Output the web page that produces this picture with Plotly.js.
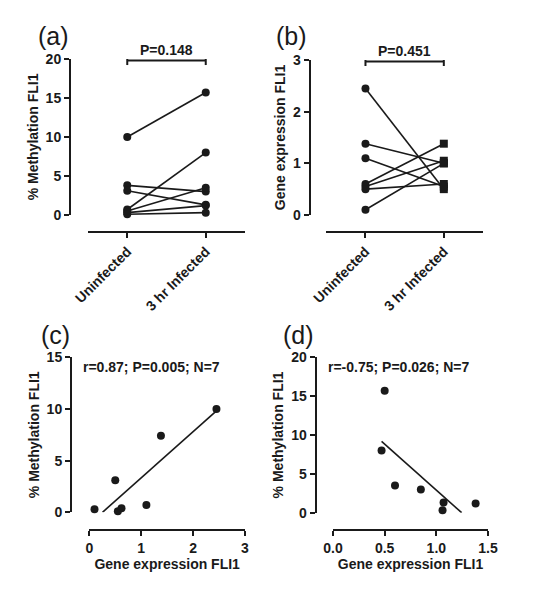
<!DOCTYPE html>
<html>
<head>
<meta charset="utf-8">
<script src="https://cdn.plot.ly/plotly-3.0.1.min.js"></script>
<style>html,body{margin:0;padding:0;background:#fff;}#chart{width:546px;height:600px;}</style>
</head>
<body>
<div id="chart"></div>
<script>
// ---- data ----
const groups = ['Uninfected', '3 hr Infected'];
// (a) % methylation FLI1, paired
const methUninfected = [10.0, 3.8, 3.1, 0.7, 0.5, 0.3, 0.1];
const methInfected   = [15.7, 3.0, 1.3, 8.0, 3.5, 1.2, 0.3];
// (b) gene expression FLI1, paired
const exprUninfected = [2.45, 1.38, 1.1, 0.6, 0.55, 0.5, 0.1];
const exprInfected   = [0.5, 1.0, 0.55, 1.38, 1.05, 0.6, 1.0];
// (c) correlation, uninfected
const cExpr = [0.1, 0.5, 0.55, 0.62, 1.1, 1.38, 2.45];
const cMeth = [0.3, 3.1, 0.1, 0.4, 0.7, 7.4, 10.0];
// (d) correlation, 3 hr infected
const dExpr = [0.47, 0.5, 0.6, 0.85, 1.06, 1.07, 1.38];
const dMeth = [8.0, 15.7, 3.5, 3.0, 0.3, 1.3, 1.2];
// statistics text
const pA = 'P=0.148';
const pB = 'P=0.451';
const statC = 'r=0.87; P=0.005; N=7';
const statD = 'r=-0.75; P=0.026; N=7';
const ticksA = [0, 5, 10, 15, 20];
const ticksB = [0, 1, 2, 3];
const ticksC = [0, 5, 10, 15];
const ticksD = [0, 5, 10, 15, 20];
const xticksC = [0, 1, 2, 3];
const xticksD = [0, 0.5, 1.0, 1.5];
const xtickTextD = ['0.0', '0.5', '1.0', '1.5'];

// ---- helpers ----
const FONT = 'Arial, "Liberation Sans", sans-serif';
const INK = '#1a1a1a';
function fit(xs, ys) {
  const n = xs.length;
  const mx = xs.reduce((a, b) => a + b, 0) / n;
  const my = ys.reduce((a, b) => a + b, 0) / n;
  let sxy = 0, sxx = 0;
  for (let i = 0; i < n; i++) { sxy += (xs[i] - mx) * (ys[i] - my); sxx += (xs[i] - mx) ** 2; }
  const b = sxy / sxx, a = my - b * mx;
  let x0 = Math.min(...xs), x1 = Math.max(...xs);
  const xz = -a / b; // clip at y = 0
  if (b > 0 && a + b * x0 < 0) x0 = xz;
  if (b < 0 && a + b * x1 < 0) x1 = xz;
  return {x: [x0, x1], y: [a + b * x0, a + b * x1]};
}

const traces = [];
for (let i = 0; i < methUninfected.length; i++) {
  traces.push({x: groups, y: [methUninfected[i], methInfected[i]], xaxis: 'x', yaxis: 'y',
    mode: 'lines+markers', cliponaxis: false, showlegend: false,
    line: {color: INK, width: 1.6}, marker: {color: INK, size: 8, symbol: 'circle'}});
}
for (let i = 0; i < exprUninfected.length; i++) {
  traces.push({x: groups, y: [exprUninfected[i], exprInfected[i]], xaxis: 'x2', yaxis: 'y2',
    mode: 'lines+markers', cliponaxis: false, showlegend: false,
    line: {color: INK, width: 1.6}, marker: {color: INK, size: 8, symbol: ['circle', 'square']}});
}
const fc = fit(cExpr, cMeth);
traces.push({x: fc.x, y: fc.y, xaxis: 'x3', yaxis: 'y3', mode: 'lines', cliponaxis: false,
  showlegend: false, line: {color: INK, width: 1.6}});
traces.push({x: cExpr, y: cMeth, xaxis: 'x3', yaxis: 'y3', mode: 'markers', cliponaxis: false,
  showlegend: false, marker: {color: INK, size: 8}});
const fd = fit(dExpr, dMeth);
traces.push({x: fd.x, y: fd.y, xaxis: 'x4', yaxis: 'y4', mode: 'lines', cliponaxis: false,
  showlegend: false, line: {color: INK, width: 1.6}});
traces.push({x: dExpr, y: dMeth, xaxis: 'x4', yaxis: 'y4', mode: 'markers', cliponaxis: false,
  showlegend: false, marker: {color: INK, size: 8}});

const tickFont = {family: FONT, size: 14, color: INK, weight: 'bold'};
const titleFont = {family: FONT, size: 14, color: INK, weight: 'bold'};
function yax(domain, pos, range, tv, title) {
  return {domain: domain, anchor: 'free', position: pos, range: range, tickvals: tv,
    showgrid: false, zeroline: false, showline: true, linecolor: INK, linewidth: 2,
    ticks: 'outside', ticklen: 5, tickwidth: 2, tickcolor: INK, tickfont: tickFont,
    title: {text: title, font: titleFont, standoff: 3}, fixedrange: true};
}
function xax(domain, pos, extra) {
  return Object.assign({domain: domain, anchor: 'free', position: pos,
    showgrid: false, zeroline: false, showline: true, linecolor: INK, linewidth: 2,
    ticks: 'outside', ticklen: 5, tickwidth: 2, tickcolor: INK, tickfont: tickFont,
    fixedrange: true}, extra);
}

function bracket(xr, yr, yv) {
  return [
    {type: 'line', xref: xr, yref: yr, x0: 0, x1: 1, y0: yv, y1: yv, line: {color: INK, width: 2}},
    {type: 'line', xref: xr, yref: yr, ysizemode: 'pixel', yanchor: yv, x0: 0, x1: 0, y0: -4.5, y1: 4.5, line: {color: INK, width: 2}},
    {type: 'line', xref: xr, yref: yr, ysizemode: 'pixel', yanchor: yv, x0: 1, x1: 1, y0: -4.5, y1: 4.5, line: {color: INK, width: 2}}
  ];
}

const panelFont = {family: FONT, size: 25, color: INK};
const statFont = {family: FONT, size: 14, color: INK, weight: 'bold'};

const layout = {
  width: 546, height: 600, autosize: false,
  margin: {l: 0, r: 0, t: 0, b: 0},
  paper_bgcolor: '#fff', plot_bgcolor: '#fff',
  showlegend: false,
  xaxis: xax([0.1612, 0.4487], 0.6133, {type: 'category', range: [-0.5, 1.5], tickangle: -45}),
  yaxis: yax([0.6417, 0.9017], 0.1282, [0, 20], ticksA, '% Methylation FLI1'),
  xaxis2: xax([0.5976, 0.8846], 0.6133, {type: 'category', range: [-0.5, 1.5], tickangle: -45}),
  yaxis2: yax([0.6417, 0.9], 0.5672, [0, 3], ticksB, 'Gene expression FLI1'),
  xaxis3: xax([0.1636, 0.4487], 0.1167, {range: [0, 3], tickvals: xticksC,
    title: {text: 'Gene expression FLI1', font: titleFont, standoff: 3}}),
  yaxis3: yax([0.1462, 0.4045], 0.1300, [0, 15], ticksC, '% Methylation FLI1'),
  xaxis4: xax([0.6099, 0.8938], 0.1167, {range: [0, 1.5], tickvals: xticksD, ticktext: xtickTextD,
    title: {text: 'Gene expression FLI1', font: titleFont, standoff: 3}}),
  yaxis4: yax([0.1455, 0.4045], 0.5782, [0, 20], ticksD, '% Methylation FLI1'),
  shapes: [].concat(bracket('x', 'y', 19.8), bracket('x2', 'y2', 2.97)),
  annotations: [
    {text: '(a)', xref: 'paper', yref: 'paper', x: 0.0989, y: 1 - 36 / 600, xanchor: 'center', yanchor: 'middle', showarrow: false, font: panelFont},
    {text: '(b)', xref: 'paper', yref: 'paper', x: 291 / 546, y: 1 - 36 / 600, xanchor: 'center', yanchor: 'middle', showarrow: false, font: panelFont},
    {text: '(c)', xref: 'paper', yref: 'paper', x: 55.6 / 546, y: 1 - 335 / 600, xanchor: 'center', yanchor: 'middle', showarrow: false, font: panelFont},
    {text: '(d)', xref: 'paper', yref: 'paper', x: 298 / 546, y: 1 - 335 / 600, xanchor: 'center', yanchor: 'middle', showarrow: false, font: panelFont},
    {text: pA, xref: 'x', yref: 'y', x: 0.5, y: 19.8, xanchor: 'center', yanchor: 'middle', yshift: 11, showarrow: false, font: statFont},
    {text: pB, xref: 'x2', yref: 'y2', x: 0.5, y: 2.97, xanchor: 'center', yanchor: 'middle', yshift: 11, showarrow: false, font: statFont},
    {text: statC, xref: 'paper', yref: 'paper', x: 81 / 546, y: 1 - 366.7 / 600, xanchor: 'left', yanchor: 'middle', showarrow: false, font: statFont},
    {text: statD, xref: 'paper', yref: 'paper', x: 325.7 / 546, y: 1 - 366.7 / 600, xanchor: 'left', yanchor: 'middle', showarrow: false, font: statFont}
  ]
};

Plotly.newPlot('chart', traces, layout, {staticPlot: true, displayModeBar: false});
</script>
</body>
</html>
